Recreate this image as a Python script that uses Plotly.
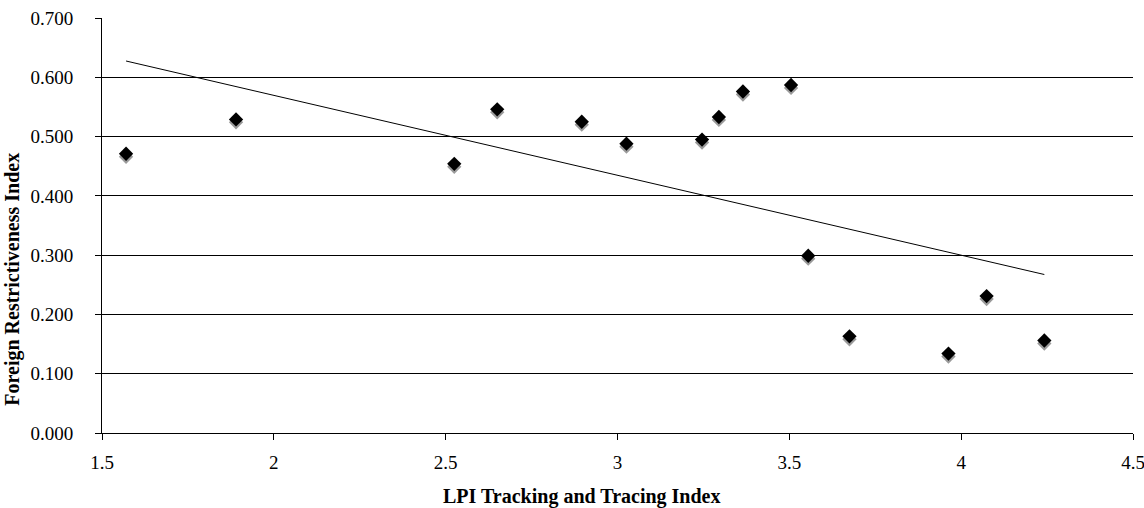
import numpy as np
import plotly.graph_objects as go

lpi_tracking = [1.57, 1.89, 2.525, 2.65, 2.896, 3.026, 3.246, 3.295, 3.365, 3.505, 3.555, 3.675, 3.963, 4.074, 4.242]
fri_values = [0.471, 0.529, 0.454, 0.546, 0.525, 0.488, 0.495, 0.533, 0.576, 0.587, 0.299, 0.163, 0.134, 0.231, 0.156]

x_ticks = [1.5, 2, 2.5, 3, 3.5, 4, 4.5]
y_ticks = [0.0, 0.1, 0.2, 0.3, 0.4, 0.5, 0.6, 0.7]

x = np.array(lpi_tracking)
y = np.array(fri_values)
slope, intercept = np.polyfit(x, y, 1)
trend_x = [x.min(), x.max()]
trend_y = [slope * v + intercept for v in trend_x]

font = "Liberation Serif, Times New Roman, serif"

fig = go.Figure()
# shadow
fig.add_trace(go.Scatter(x=x, y=y - 0.005, mode="markers",
                         marker=dict(symbol="diamond", size=11, color="#9a9a9a", line=dict(width=0)),
                         hoverinfo="skip", showlegend=False))
fig.add_trace(go.Scatter(x=x, y=y, mode="markers",
                         marker=dict(symbol="diamond", size=11, color="black", line=dict(width=0)),
                         showlegend=False))
fig.add_trace(go.Scatter(x=trend_x, y=trend_y, mode="lines",
                         line=dict(color="black", width=1), showlegend=False))

fig.update_layout(
    width=1144, height=508,
    margin=dict(l=102, r=11, t=18, b=74.5),
    paper_bgcolor="white", plot_bgcolor="white",
    font=dict(family=font, size=19, color="black"),
    xaxis=dict(range=[1.5, 4.5], tickvals=x_ticks, ticktext=[str(v) for v in x_ticks],
               showgrid=False, zeroline=False, showline=True, linecolor="black", linewidth=1,
               ticks="outside", ticklen=6, tickcolor="black", ticklabelstandoff=6,
               ticklabeloverflow="allow", automargin=False),
    yaxis=dict(range=[0, 0.7], tickvals=y_ticks, tickformat=".3f",
               showgrid=True, gridcolor="black", gridwidth=1, zeroline=False,
               showline=True, linecolor="black", linewidth=1,
               ticks="outside", ticklen=6, tickcolor="black", ticklabelstandoff=18,
               ticklabeloverflow="allow", automargin=False),
    annotations=[
        dict(text="<b>LPI Tracking and Tracing Index</b>", xref="paper", yref="paper",
             x=0.4646, y=-0.153, xanchor="center", yanchor="middle", showarrow=False,
             font=dict(size=20)),
        dict(text="<b>Foreign Restrictiveness Index</b>", xref="paper", yref="paper",
             x=-0.0863, y=0.3694, xanchor="center", yanchor="middle", textangle=-90,
             showarrow=False, font=dict(size=20)),
    ],
)

fig.write_html("out.html", config={"displayModeBar": False},
               post_script="document.body.style.margin='0px';")
